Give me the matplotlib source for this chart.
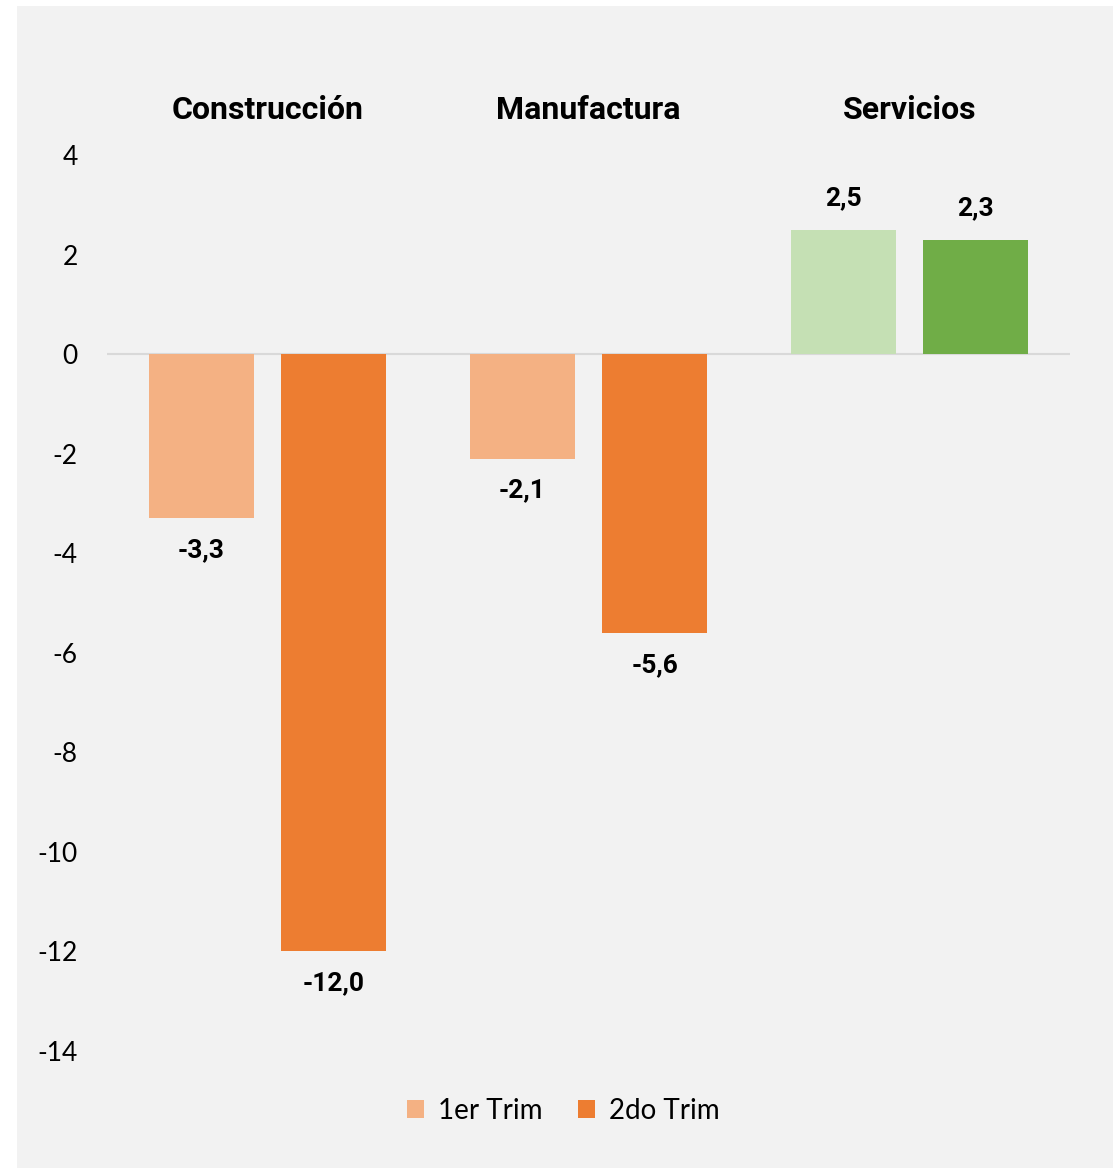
import matplotlib.pyplot as plt
import numpy as np
from matplotlib.patches import Rectangle

categories = ['Construcción', 'Manufactura', 'Servicios']
series = ['1er Trim', '2do Trim']
trim1 = [-3.3, -2.1, 2.5]
trim2 = [-12.0, -5.6, 2.3]
labels1 = ['-3,3', '-2,1', '2,5']
labels2 = ['-12,0', '-5,6', '2,3']
yticks = [4, 2, 0, -2, -4, -6, -8, -10, -12, -14]

light_cols = ['#F4B183', '#F4B183', '#C5E0B4']
dark_cols = ['#ED7D31', '#ED7D31', '#70AD47']

tick_font = ['Lato', 'DejaVu Sans']
bold_font = ['Roboto', 'DejaVu Sans']

fig = plt.figure(figsize=(11.13, 11.71), dpi=100)
fig.patch.set_facecolor('white')
fig.patches.append(Rectangle((17 / 1113, 3 / 1171), 1 - 17 / 1113, 1 - 9 / 1171,
                             transform=fig.transFigure, facecolor='#F2F2F2',
                             edgecolor='none', zorder=-10))

ax = fig.add_axes([0.0961, 0.1025, 0.8653, 0.7651])
ax.set_facecolor('none')
ax.set_zorder(5)

x = np.arange(len(categories))
w = 0.325
off = 0.206
b1 = ax.bar(x - off, trim1, w, color=light_cols, zorder=2)
b2 = ax.bar(x + off, trim2, w, color=dark_cols, zorder=2)

ax.axhline(0, color='#D9D9D9', lw=1.5, zorder=1)

# data labels above positive bars, below negative ones
for xs, vals, labs in [(x - off, trim1, labels1), (x + off, trim2, labels2)]:
    for xi, v, lab in zip(xs, vals, labs):
        ax.annotate(lab, (xi, v), xytext=(0, 31 if v > 0 else -32), textcoords='offset pixels',
                    ha='center', va='center', fontsize=19, fontweight='bold', family=bold_font)

for xi, cat in zip(x, categories):
    ax.text(xi, 4.9, cat, ha='center', va='center', fontsize=23, fontweight='bold',
            family=bold_font)

ax.set_xlim(-0.5, 2.5)
ax.set_ylim(-14, 4)
ax.set_yticks(yticks)
ax.set_yticklabels([str(t) for t in yticks], fontsize=19, family=tick_font)
ax.tick_params(axis='y', length=0, pad=21)
ax.set_xticks([])
for s in ax.spines.values():
    s.set_visible(False)

leg = fig.legend([b1[0], b2[0]], series, loc='center', bbox_to_anchor=(0.506, 1 - 1111 / 1171),
                 ncol=2, frameon=False, prop={'family': tick_font, 'size': 20},
                 handlelength=0.6, handleheight=0.6, handletextpad=0.5, columnspacing=1.3)

fig.savefig('out.png', dpi=100)
